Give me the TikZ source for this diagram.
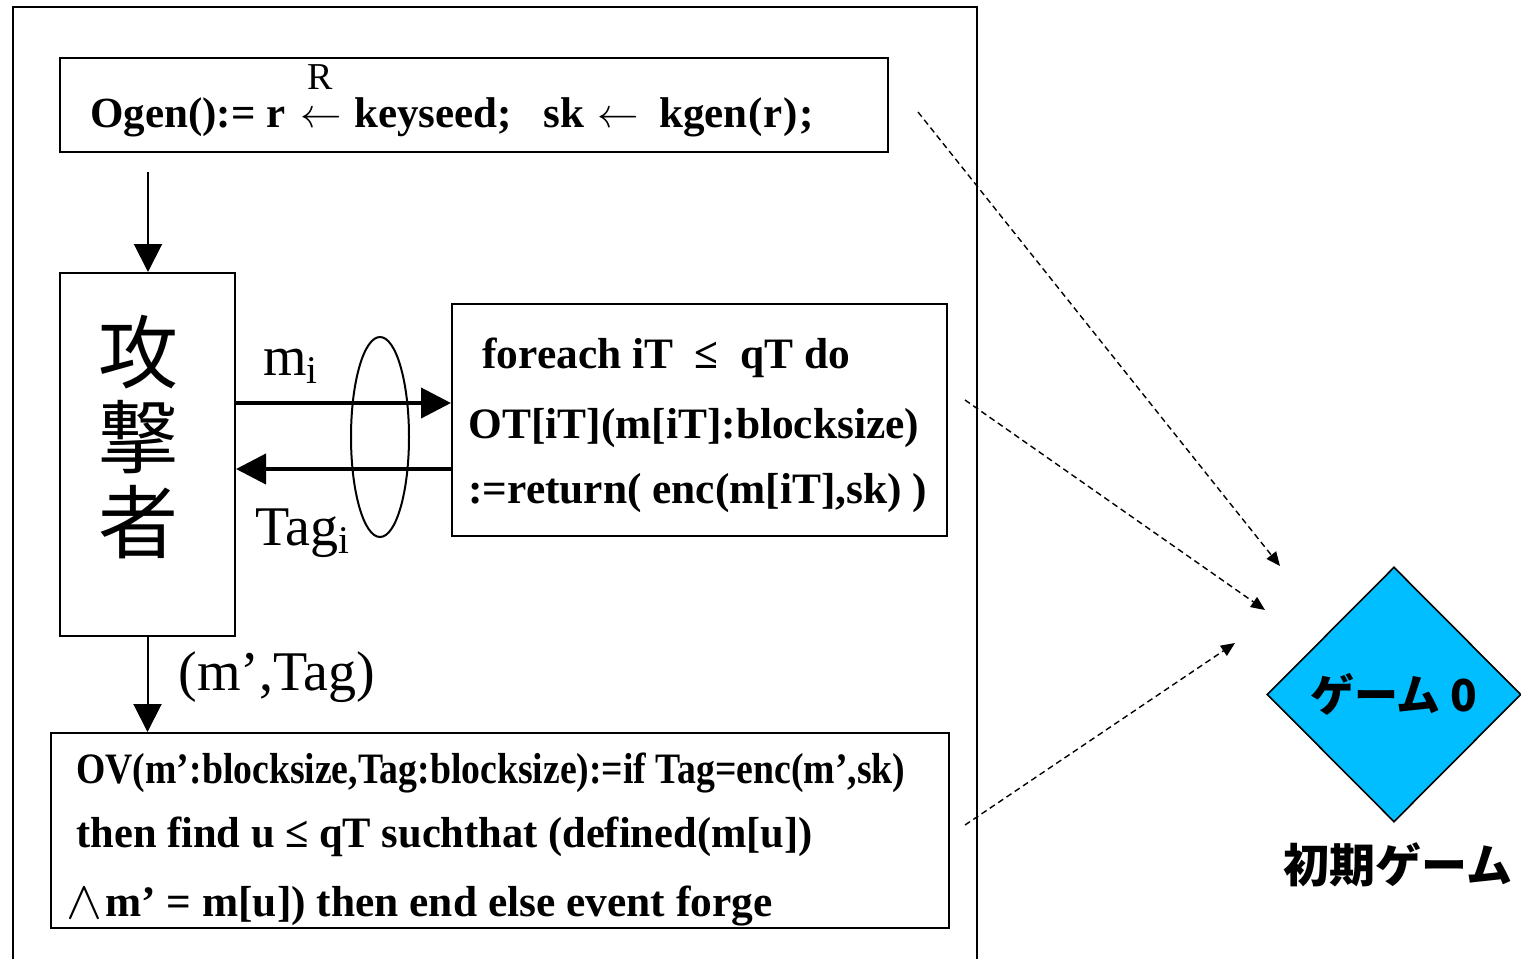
\documentclass[tikz,border=0pt]{standalone}
\usepackage{fontspec}
\setmainfont{Liberation Serif}
\newfontfamily\cjk{Noto Sans CJK JP}
\usetikzlibrary{arrows.meta,shapes.geometric}
\definecolor{gameblue}{RGB}{0,190,255}
\tikzset{
  box/.style={draw, line width=1pt, inner sep=0pt},
  txt/.style={inner sep=0pt, anchor=base west},
  code/.style={txt, font=\fontsize{21.7}{26}\selectfont\bfseries},
  lbl/.style={inner sep=0pt, anchor=base west, font=\fontsize{28}{32}\selectfont},
  flow/.style={line width=1pt, -{Triangle[length=14pt,width=14pt]}},
  msg/.style={line width=2pt, -{Triangle[length=15pt,width=15pt]}},
  ref/.style={line width=0.7pt, dash pattern=on 3pt off 2pt, -{Triangle[length=7pt,width=6pt]}},
}
\begin{document}
\begin{tikzpicture}[x=0.5pt,y=-0.5pt]
\useasboundingbox (0,0) rectangle (1521,959);
% enclosing frame, open at the bottom
\draw[line width=1pt] (13,959) -- (13,7) -- (977,7) -- (977,959);

% key generation oracle
\node[box, minimum width=414pt, minimum height=47pt] (ogen) at (474,105) {};
\node[code, font=\fontsize{21.5}{26}\selectfont\bfseries] (ogentext) at (90,127)
  {Ogen():= r\hspace{7.5pt}$\leftarrow$\hspace{6pt}keyseed;\ \ \ sk\hspace{6.5pt}$\leftarrow$\hspace{10pt}kgen\kern0.5pt(\kern0.5pt r\kern0.5pt)\kern0.5pt;};
\node[inner sep=0pt, font=\fontsize{19}{20}\selectfont] (rand) at (320,77) {R};

% adversary
\node[box, minimum width=87.5pt, minimum height=181.5pt] (adv) at (147.5,454.5) {};
\node[inner sep=0pt, align=center, font=\cjk\fontsize{40}{42.5}\selectfont] (advtext) at (138,437) {攻\\撃\\者};

% tagging oracle
\node[box, minimum width=247.5pt, minimum height=116pt] (tagorc) at (699.5,420) {};
\node[code] (tag1) at (482,368) {foreach iT \ ≤\ \ qT do};
\node[code] (tag2) at (468,438) {OT[iT](m[iT]:blocksize)};
\node[code] (tag3) at (468,503) {:=return( enc(m[iT],sk) )};

% verification oracle
\node[box, minimum width=449pt, minimum height=97.5pt] (verify) at (500,830.5) {};
\node[code] (ver1) at (76,783) {\scalebox{0.869}[1]{OV(m’:blocksize,Tag:blocksize):=if Tag=enc(m',sk)}};
\node[code] (ver2) at (76,847) {\scalebox{0.979}[1]{then find u ≤ qT suchthat (defined(m[u])}};
\node[code] (ver3) at (66,916) {\raisebox{-1pt}{\scalebox{1.3}{$\wedge$}}\kern1.5pt m’ = m[u]) then end else event forge};

% query loop
\node[draw, ellipse, line width=1pt, minimum width=29pt, minimum height=100pt, inner sep=0pt] (loop) at (380,437) {};
\coordinate (qy) at (0,403);
\coordinate (ry) at (0,469);
\draw[msg] (adv.east |- qy) -- (tagorc.west |- qy);
\draw[msg] (tagorc.west |- ry) -- (adv.east |- ry);
\node[lbl] (mlabel) at (263,375) {m\textsubscript{i}};
\node[lbl] (taglabel) at (255,545) {Tag\textsubscript{i}};

% control flow
\coordinate (ogenout) at (148,172);
\draw[flow] (ogenout) -- (adv.north -| ogenout);
\draw[flow] (adv.south) -- (verify.north -| adv.south);
\node[lbl] (forgelabel) at (178,690) {(m’,Tag)};

% game node
\node[diamond, draw, fill=gameblue, line width=0.8pt, minimum width=127pt, minimum height=127.5pt, inner sep=0pt,
      font=\cjk\bfseries\fontsize{22}{26}\selectfont] (game) at (1394,694.5) {ゲーム 0};
\node[inner sep=0pt, font=\cjk\bfseries\fontsize{23}{26}\selectfont] (gamecap) at (1398,865) {初期ゲーム};

% references to the game
\coordinate (r1s) at (918,112);  \coordinate (r1e) at (1280,566);
\coordinate (r2s) at (965,400);  \coordinate (r2e) at (1265,610);
\coordinate (r3s) at (965,825);  \coordinate (r3e) at (1235,643);
\draw[ref] (r1s) -- (r1e);
\draw[ref] (r2s) -- (r2e);
\draw[ref] (r3s) -- (r3e);
\end{tikzpicture}
\end{document}
